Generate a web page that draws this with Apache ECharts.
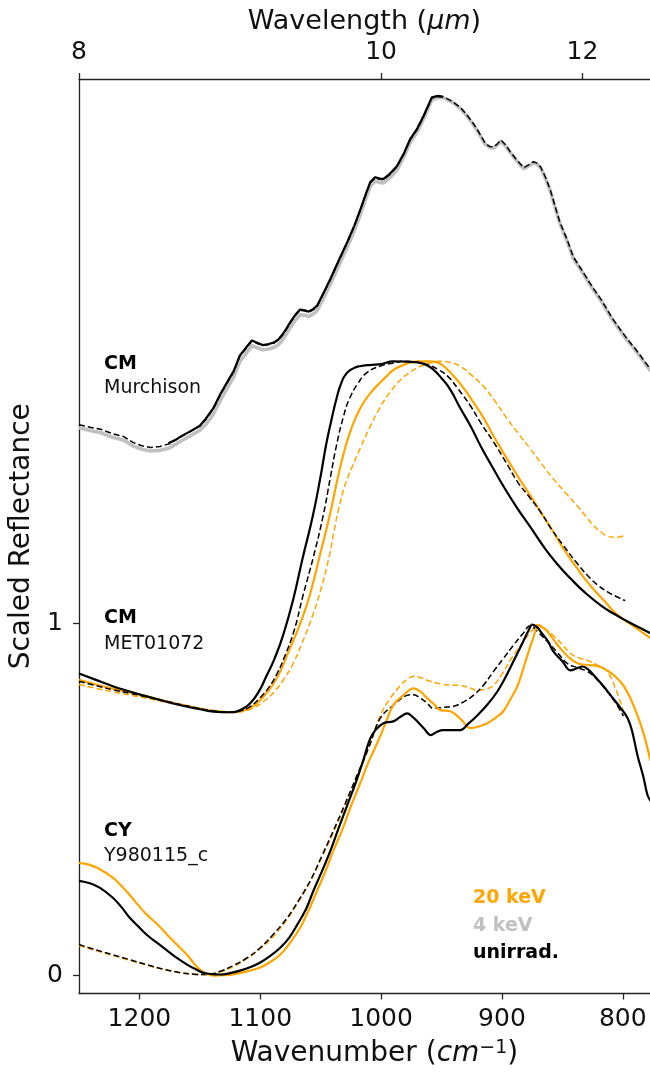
<!DOCTYPE html>
<html>
<head>
<meta charset="utf-8">
<script src="https://cdn.jsdelivr.net/npm/echarts@6/dist/echarts.min.js"></script>
<style>
  html, body { margin: 0; padding: 0; background: #fff; }
  #chart { width: 650px; height: 1073px; }
</style>
</head>
<body>
<div id="chart"></div>
<script>
// ---- Tick labels ----
const wavenumberTicks = [1200, 1100, 1000, 900, 800];
const wavelengthTicks = [8, 10, 12];
const reflectanceTicks = [0, 1];

// ---- CM Murchison ----
const murch4keV = [[1250,1.556],[1240,1.548],[1232,1.542],[1222,1.529],[1213,1.521],[1205,1.504],[1198,1.495],[1191,1.490],[1183,1.492],[1175,1.499],[1166,1.518],[1158,1.533],[1150,1.549],[1145,1.566],[1139,1.594],[1133,1.634],[1127,1.671],[1122,1.700],[1117,1.744],[1111,1.771],[1107,1.789],[1102,1.783],[1098,1.778],[1093,1.780],[1089,1.784],[1085,1.792],[1081,1.809],[1078,1.825],[1075,1.842],[1071,1.862],[1067,1.877],[1063,1.876],[1060,1.872],[1056,1.880],[1053,1.889],[1048,1.922],[1042,1.964],[1035,2.017],[1028,2.069],[1022,2.118],[1017,2.164],[1013,2.204],[1009,2.242],[1005,2.257],[1001,2.253],[998,2.252],[993,2.266],[987,2.288],[981,2.327],[976,2.366],[970,2.398],[965,2.433],[961,2.464],[958,2.488],[953,2.494],[949,2.494],[946,2.490],[943,2.485],[939,2.476],[934,2.462],[929,2.442],[924,2.419],[919,2.392],[914,2.362],[910,2.352],[907,2.351],[904,2.359],[901,2.370],[897,2.357],[893,2.337],[888,2.315],[882,2.292],[878,2.300],[874,2.309],[871,2.305],[868,2.294],[864,2.265],[860,2.229],[856,2.182],[852,2.136],[846,2.086],[841,2.038],[835,2.006],[829,1.973],[824,1.946],[818,1.917],[813,1.888],[808,1.860],[802,1.831],[796,1.803],[790,1.778],[785,1.755],[781,1.736],[777,1.718]];
const murchDash = [[1250,1.565],[1240,1.557],[1232,1.552],[1222,1.539],[1213,1.531],[1205,1.514],[1198,1.505],[1191,1.500],[1183,1.503],[1175,1.511],[1166,1.530],[1158,1.545],[1150,1.561],[1145,1.580],[1139,1.609],[1133,1.650],[1127,1.686],[1122,1.715],[1117,1.759],[1111,1.785],[1107,1.802],[1102,1.795],[1098,1.790],[1093,1.793],[1089,1.796],[1085,1.805],[1081,1.822],[1078,1.838],[1075,1.855],[1071,1.875],[1067,1.890],[1063,1.888],[1060,1.884],[1056,1.892],[1053,1.901],[1048,1.935],[1042,1.977],[1035,2.030],[1028,2.082],[1022,2.130],[1017,2.176],[1013,2.215],[1009,2.252],[1005,2.266],[1001,2.262],[998,2.261],[993,2.275],[987,2.297],[981,2.335],[976,2.374],[970,2.405],[965,2.439],[961,2.470],[958,2.493],[953,2.497],[949,2.496],[946,2.492],[943,2.487],[939,2.478],[934,2.465],[929,2.445],[924,2.422],[919,2.395],[914,2.365],[910,2.355],[907,2.354],[904,2.362],[901,2.374],[897,2.360],[893,2.340],[888,2.318],[882,2.295],[878,2.303],[874,2.312],[871,2.308],[868,2.297],[864,2.268],[860,2.232],[856,2.185],[852,2.139],[846,2.090],[841,2.042],[835,2.010],[829,1.977],[824,1.950],[818,1.921],[813,1.892],[808,1.864],[802,1.835],[796,1.807],[790,1.782],[785,1.759],[781,1.740],[777,1.722]];
const murchUnirr = [[1176,1.512],[1170,1.522],[1166,1.531],[1158,1.546],[1150,1.562],[1145,1.582],[1139,1.611],[1133,1.652],[1127,1.688],[1122,1.717],[1117,1.761],[1111,1.787],[1107,1.804],[1102,1.797],[1098,1.791],[1093,1.794],[1089,1.798],[1085,1.807],[1081,1.824],[1078,1.840],[1075,1.857],[1071,1.877],[1067,1.892],[1063,1.890],[1060,1.886],[1056,1.894],[1053,1.903],[1048,1.937],[1042,1.979],[1035,2.032],[1028,2.084],[1022,2.132],[1017,2.178],[1013,2.217],[1009,2.254],[1005,2.268],[1001,2.264],[998,2.263],[993,2.277],[987,2.299],[981,2.337],[976,2.376],[970,2.407],[965,2.441],[961,2.472],[958,2.495],[953,2.499],[949,2.497]];

// ---- CM MET01072 ----
const metUnirr = [[1250,0.858],[1236,0.840],[1222,0.822],[1208,0.807],[1194,0.793],[1180,0.780],[1166,0.768],[1152,0.758],[1139,0.750],[1125,0.748],[1116,0.755],[1108,0.775],[1101,0.808],[1095,0.850],[1088,0.902],[1081,0.968],[1073,1.065],[1065,1.185],[1056.5,1.306],[1050,1.420],[1045.4,1.510],[1041,1.580],[1037,1.638],[1033,1.683],[1028.8,1.710],[1023,1.725],[1017.8,1.731],[1008,1.735],[1000,1.737],[990,1.745],[980,1.744],[970,1.742],[963,1.735],[957,1.722],[950,1.697],[943,1.666],[935,1.615],[926,1.561],[917,1.500],[907,1.439],[897,1.380],[887,1.326],[876,1.272],[866,1.221],[855,1.172],[843,1.127],[831,1.087],[818,1.051],[807,1.027],[796,1.006],[786,0.988],[777,0.972]];
const metUnirrDash = [[1250,0.836],[1236,0.824],[1222,0.812],[1208,0.802],[1194,0.792],[1180,0.781],[1166,0.770],[1152,0.760],[1139,0.752],[1125,0.748],[1116,0.752],[1108,0.765],[1100,0.790],[1093,0.818],[1086.5,0.855],[1080,0.905],[1072,0.980],[1064.7,1.079],[1056,1.190],[1048,1.306],[1042,1.415],[1037,1.505],[1031,1.590],[1026,1.640],[1019,1.683],[1012,1.712],[1001,1.731],[990,1.740],[980,1.745],[970,1.742],[962,1.736],[953,1.722],[945,1.703],[936,1.665],[926,1.618],[917,1.567],[907,1.516],[897,1.460],[887,1.402],[877,1.358],[868,1.317],[859,1.268],[849,1.221],[839,1.176],[829,1.136],[821,1.110],[813,1.091],[805,1.076],[798,1.065]];
const met20keV = [[1250,0.840],[1236,0.827],[1222,0.815],[1208,0.804],[1194,0.793],[1180,0.781],[1166,0.770],[1152,0.760],[1139,0.752],[1125,0.748],[1115,0.752],[1106,0.765],[1098,0.790],[1090,0.824],[1083,0.868],[1076,0.925],[1067,1.000],[1059.2,1.079],[1051,1.190],[1042.6,1.306],[1038,1.380],[1035,1.428],[1032,1.470],[1028.8,1.510],[1025,1.550],[1021,1.585],[1015,1.625],[1008,1.658],[1001,1.684],[995,1.704],[990,1.720],[980,1.737],[970,1.745],[960,1.745],[953.5,1.742],[947,1.728],[940,1.703],[932,1.670],[923.7,1.629],[915,1.583],[907,1.533],[897,1.475],[887,1.419],[877,1.366],[868,1.317],[858,1.263],[849,1.212],[838,1.158],[827,1.108],[815,1.063],[804,1.023],[790,0.990],[777,0.958]];
const met20keVDash = [[1250,0.827],[1236,0.816],[1222,0.806],[1208,0.797],[1194,0.788],[1180,0.778],[1166,0.768],[1152,0.759],[1139,0.752],[1125,0.747],[1115,0.750],[1106,0.760],[1095,0.785],[1087,0.812],[1080,0.845],[1073,0.885],[1066,0.940],[1058,1.010],[1050.9,1.085],[1043,1.190],[1039,1.262],[1035,1.328],[1030,1.392],[1024,1.445],[1017,1.500],[1010,1.553],[1001,1.613],[992,1.660],[984,1.692],[976,1.714],[967.6,1.731],[960,1.740],[951,1.745],[943,1.742],[934.5,1.731],[925,1.705],[915.4,1.674],[905,1.628],[895.5,1.581],[886,1.538],[876.5,1.496],[867,1.453],[857.5,1.411],[847,1.370],[837.6,1.334],[830,1.302],[824,1.278],[818,1.260],[813,1.249],[806,1.245],[799.5,1.249]];

// ---- CY Y980115_c ----
const cyUnirr = [[1250,0.269],[1241,0.262],[1232.6,0.249],[1222,0.221],[1215,0.195],[1208,0.164],[1201,0.140],[1194,0.116],[1185,0.092],[1177,0.071],[1169,0.050],[1160.6,0.031],[1153,0.017],[1147,0.008],[1140,0.004],[1133,0.003],[1125,0.007],[1116.7,0.014],[1108,0.024],[1100,0.037],[1092,0.055],[1083.5,0.079],[1076,0.108],[1069.5,0.144],[1062,0.190],[1056,0.241],[1049,0.296],[1042,0.354],[1035,0.420],[1028,0.484],[1021,0.548],[1015,0.609],[1009,0.674],[1004,0.700],[998,0.717],[990,0.722],[984,0.735],[978.4,0.745],[974,0.735],[970,0.722],[964,0.700],[959,0.683],[954,0.692],[948.6,0.697],[941,0.697],[934.5,0.697],[928,0.715],[920.4,0.739],[912,0.770],[903.8,0.807],[897,0.848],[890.6,0.892],[883,0.945],[878,0.980],[874.8,0.997],[871,0.990],[868,0.977],[862,0.950],[857.5,0.921],[850,0.893],[843.4,0.867],[838,0.873],[833.4,0.878],[828,0.868],[824,0.853],[817,0.826],[810,0.796],[803,0.765],[796,0.731],[792,0.690],[787.9,0.626],[783,0.565],[779.6,0.513],[777,0.496]];
const cy20keV = [[1250,0.320],[1242,0.315],[1235,0.306],[1222,0.278],[1215,0.255],[1208,0.229],[1201,0.200],[1194,0.173],[1185,0.145],[1177,0.116],[1169,0.088],[1160.6,0.059],[1155,0.035],[1150,0.017],[1145,0.006],[1139,0.000],[1130,0.001],[1122.5,0.003],[1111,0.012],[1100,0.023],[1092,0.038],[1083.5,0.059],[1075,0.095],[1067,0.136],[1060,0.185],[1053,0.241],[1046,0.297],[1039.6,0.354],[1032,0.415],[1025.6,0.476],[1018,0.540],[1011.5,0.598],[1006,0.640],[1000.7,0.680],[996,0.720],[990,0.768],[982,0.795],[973,0.816],[967,0.805],[962,0.788],[956,0.770],[951,0.754],[942.8,0.751],[934,0.728],[926,0.703],[919,0.708],[912,0.717],[905,0.733],[898.9,0.751],[893,0.785],[887,0.824],[883,0.865],[879,0.909],[874,0.960],[869.9,0.994],[866,0.988],[862.4,0.977],[857,0.953],[851.6,0.929],[845,0.905],[837.6,0.887],[831,0.883],[824,0.881],[818,0.876],[813,0.867],[806,0.849],[799.5,0.824],[794,0.790],[787.9,0.739],[783,0.690],[779.6,0.646],[777,0.609]];
const cyUnirrDash = [[1250,0.088],[1236,0.073],[1222,0.059],[1208,0.045],[1194,0.031],[1180,0.018],[1166,0.008],[1155,0.004],[1144,0.003],[1133,0.012],[1122.5,0.028],[1111,0.050],[1100,0.079],[1089,0.118],[1077.7,0.164],[1068,0.215],[1058.7,0.269],[1049,0.340],[1039.6,0.411],[1030,0.486],[1019.8,0.570],[1010,0.650],[1000.7,0.731],[990,0.768],[978.4,0.796],[973,0.798],[967.6,0.788],[962,0.775],[957,0.759],[948,0.762],[940,0.765],[932,0.777],[923.7,0.796],[915,0.826],[907,0.864],[899,0.900],[890.6,0.938],[883,0.970],[876.5,0.994],[870,0.975],[862.4,0.949],[854,0.917],[846,0.887],[838,0.875],[829.3,0.864],[821,0.840],[813,0.807],[806,0.775],[799.5,0.737]];
const cy20keVDash = [[1250,0.085],[1236,0.071],[1222,0.057],[1208,0.043],[1194,0.030],[1180,0.018],[1166,0.009],[1155,0.004],[1144,0.003],[1133,0.010],[1122.5,0.025],[1111,0.048],[1100,0.076],[1089,0.112],[1077.7,0.160],[1068,0.212],[1058.7,0.266],[1049,0.336],[1039.6,0.405],[1030,0.482],[1019.8,0.565],[1010,0.648],[1000.7,0.739],[992,0.790],[984,0.824],[978,0.843],[973,0.850],[967,0.846],[962,0.839],[955,0.832],[948.6,0.827],[941,0.825],[934.5,0.824],[927,0.818],[920.4,0.810],[914,0.813],[907,0.824],[899,0.862],[890.6,0.909],[881,0.955],[874,0.985],[870.7,0.997],[864,0.985],[857.5,0.966],[850,0.940],[843.4,0.915],[836,0.902],[829.3,0.895],[821,0.882],[813,0.864],[806,0.815],[799.5,0.751]];

const ORANGE = '#FFA500';
const GREY = '#C0C0C0';
const BLACK = '#000000';
const FONT = 'DejaVu Sans';

function line(data, color, width, dashed, smooth) {
  return {
    type: 'line', data: data, xAxisIndex: 0, yAxisIndex: 0,
    showSymbol: false, symbol: 'none', silent: true,
    smooth: smooth,
    lineStyle: { color: color, width: width, type: dashed ? [6, 3] : 'solid', cap: 'butt', join: 'round' },
    animation: false
  };
}

const chart = echarts.init(document.getElementById('chart'), null, { renderer: 'canvas' });
const xMin = 777.5, xMax = 1250;
chart.setOption({
  animation: false,
  backgroundColor: '#ffffff',
  grid: { left: 79, right: 0, top: 79, bottom: 77, containLabel: false },
  xAxis: [
    {
      type: 'value', position: 'bottom', min: xMin, max: xMax, inverse: true,
      name: '{t|Wavenumber (}{i|cm}{s|−1}{t|)}',
      nameLocation: 'middle', nameGap: 45,
      nameTextStyle: {
        padding: [0, 0, 0, 20],
        rich: {
          t: { fontFamily: FONT, fontSize: 28, color: '#111' },
          i: { fontFamily: FONT, fontSize: 28, fontStyle: 'italic', color: '#111' },
          s: { fontFamily: FONT, fontSize: 19, color: '#111', verticalAlign: 'top', padding: [0, 0, 12, 0] }
        }
      },
      axisLine: { show: true, onZero: false, lineStyle: { color: '#222', width: 1.3 } },
      axisTick: { show: true, inside: false, length: 6, customValues: wavenumberTicks, lineStyle: { color: '#222', width: 1.3 } },
      axisLabel: { show: true, customValues: wavenumberTicks, margin: 13, fontFamily: FONT, fontSize: 25, color: '#111', formatter: v => String(v) },
      splitLine: { show: false }
    },
    {
      type: 'value', position: 'top', min: xMin, max: xMax, inverse: true,
      name: '{t|Wavelength (}{i|μm}{t|)}',
      nameLocation: 'middle', nameGap: 43,
      nameTextStyle: {
        rich: {
          t: { fontFamily: FONT, fontSize: 27, color: '#111' },
          i: { fontFamily: FONT, fontSize: 27, fontStyle: 'italic', color: '#111' }
        }
      },
      axisLine: { show: true, onZero: false, lineStyle: { color: '#222', width: 1.3 } },
      axisTick: { show: true, inside: false, length: 6, customValues: wavelengthTicks.map(w => 10000 / w), lineStyle: { color: '#222', width: 1.3 } },
      axisLabel: {
        show: true, customValues: wavelengthTicks.map(w => 10000 / w), margin: 14,
        fontFamily: FONT, fontSize: 25, color: '#111',
        formatter: v => String(Math.round(10000 / v))
      },
      splitLine: { show: false }
    }
  ],
  yAxis: {
    type: 'value', min: -0.051, max: 2.547,
    name: 'Scaled Reflectance', nameLocation: 'middle', nameGap: 38, nameRotate: 90,
    nameTextStyle: { fontFamily: FONT, fontSize: 28, color: '#111' },
    axisLine: { show: true, onZero: false, lineStyle: { color: '#222', width: 1.3 } },
    axisTick: { show: true, inside: false, length: 6, customValues: reflectanceTicks, lineStyle: { color: '#222', width: 1.3 } },
    axisLabel: { show: true, customValues: reflectanceTicks, margin: 16, fontFamily: FONT, fontSize: 25, color: '#111', formatter: v => String(v) },
    splitLine: { show: false }
  },
  series: [
    line(murch4keV, GREY, 3.6, false, false),
    line(murchUnirr, BLACK, 2.2, false, false),
    line(murchDash, BLACK, 1.5, true, false),
    line(met20keVDash, ORANGE, 1.5, true, 0.5),
    line(met20keV, ORANGE, 2.2, false, 0.5),
    line(metUnirrDash, BLACK, 1.5, true, 0.5),
    line(metUnirr, BLACK, 2.2, false, 0.5),
    line(cy20keVDash, ORANGE, 1.5, true, 0.4),
    line(cyUnirrDash, BLACK, 1.5, true, 0.4),
    line(cy20keV, ORANGE, 2.2, false, 0.4),
    line(cyUnirr, BLACK, 2.2, false, 0.4)
  ],
  graphic: [
    { type: 'text', left: 104, top: 355, style: { text: 'CM', font: 'bold 19px "DejaVu Sans"', fill: '#000' } },
    { type: 'text', left: 104, top: 379, style: { text: 'Murchison', font: '19px "DejaVu Sans"', fill: '#111' } },
    { type: 'text', left: 104, top: 609, style: { text: 'CM', font: 'bold 19px "DejaVu Sans"', fill: '#000' } },
    { type: 'text', left: 104, top: 635, style: { text: 'MET01072', font: '19px "DejaVu Sans"', fill: '#111' } },
    { type: 'text', left: 104, top: 822, style: { text: 'CY', font: 'bold 19px "DejaVu Sans"', fill: '#000' } },
    { type: 'text', left: 104, top: 847, style: { text: 'Y980115_c', font: '19px "DejaVu Sans"', fill: '#111' } },
    { type: 'text', left: 473, top: 889, style: { text: '20 keV', font: 'bold 19px "DejaVu Sans"', fill: ORANGE } },
    { type: 'text', left: 473, top: 917, style: { text: '4 keV', font: 'bold 19px "DejaVu Sans"', fill: GREY } },
    { type: 'text', left: 473, top: 944, style: { text: 'unirrad.', font: 'bold 19px "DejaVu Sans"', fill: '#000' } }
  ]
});
</script>
</body>
</html>
